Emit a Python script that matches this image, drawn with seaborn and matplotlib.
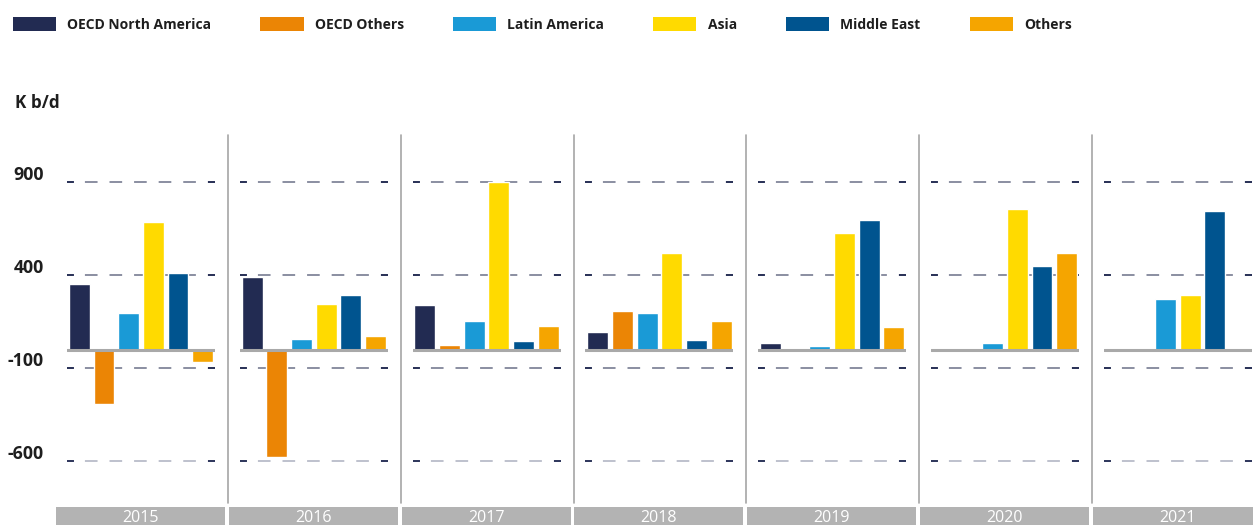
import matplotlib
matplotlib.use("Agg")
import matplotlib.pyplot as plt
import matplotlib.transforms as mtransforms
from matplotlib.lines import Line2D
from matplotlib.patches import Patch, Rectangle
import pandas as pd
import seaborn as sns


regions = ["OECD North America", "OECD Others", "Latin America",
           "Asia", "Middle East", "Others"]
years = ["2015", "2016", "2017", "2018", "2019", "2020", "2021"]

oecd_na = [355, 390, 240, 95, 35, 0, 0]
oecd_others = [-290, -575, 25, 210, 0, 0, 0]
latin_america = [200, 60, 155, 200, 22, 35, 270]
asia = [685, 245, 900, 520, 625, 755, 295]
middle_east = [410, 295, 45, 50, 700, 450, 745]
others = [-65, 75, 130, 155, 120, 520, 0]

y_ticks = [900, 400, -100, -600]
colors = ["#222B52", "#EB8505", "#1A9AD6", "#FFDA00", "#00548F", "#F5A500"]

sns.set_style("white")
plt.rcParams["font.family"] = ["Open Sans", "DejaVu Sans"]
plt.rcParams["lines.scale_dashes"] = False

W, H = 1253, 525
fig = plt.figure(figsize=(W / 100, H / 100), dpi=100)

series = [oecd_na, oecd_others, latin_america, asia, middle_east, others]
rows = []
for reg, vals in zip(regions, series):
    for yr, v in zip(years, vals):
        rows.append({"year": yr, "region": reg, "value": v})
df = pd.DataFrame(rows)

# px -> data scale (500 units = 93 px)
top_px, bot_px = 135, 503
y0 = 900 + (182.3 - top_px) * 500 / 93
y1 = -600 - (bot_px - 461.3) * 500 / 93

grid_gray = "#81869A"
grid_light = "#B9BCC9"
dark = "#222B52"
step = 172.8
axes = []
for i, yr in enumerate(years):
    left = 67 + i * step
    ax = fig.add_axes([left / W, (H - bot_px) / H, 148 / W, (bot_px - top_px) / H])
    sub = df[df["year"] == yr]
    sns.barplot(
        sub, x="region", y="value", hue="region",
        order=regions, hue_order=regions, palette=colors,
        width=0.85, dodge=False, saturation=1, legend=False,
        ax=ax, zorder=3,
    )
    ax.set_ylim(y1, y0)
    ax.set_xlim(-0.5, 5.5)
    ax.set_xlabel("")
    ax.set_ylabel("")
    ax.set_xticks([])
    ax.set_yticks([])
    for s in ax.spines.values():
        s.set_visible(False)
    ax.patch.set_alpha(0)

    trans = ax.get_yaxis_transform()
    for v in y_ticks:
        c = grid_light if v == -600 else grid_gray
        ax.axhline(v, color=c, lw=1.3, linestyle=(4.8, (9.1, 8.6)), zorder=1)
        ax.plot([0, 7 / 148], [v, v], transform=trans, color=dark, lw=1.3,
                solid_capstyle="butt", zorder=1)
        ax.plot([141 / 148, 1], [v, v], transform=trans, color=dark, lw=1.3,
                solid_capstyle="butt", zorder=1)
    ax.axhline(0, color="#A9A9A9", lw=2.2, zorder=4)
    axes.append(ax)

# y labels on the first panel
ax0 = axes[0]
lab_trans = mtransforms.offset_copy(ax0.get_yaxis_transform(), fig=fig,
                                    x=0, y=7, units="dots")
for v in y_ticks:
    ax0.text((44 - 67) / 148, v, f"{v}", transform=lab_trans,
             ha="right", va="center", fontsize=12.8, fontweight="bold",
             color="#1E1E1E", clip_on=False)
fig.text(15 / W, (H - 103.5) / H, "K b/d", ha="left", va="center",
         fontsize=12.3, fontweight="bold", color="#1E1E1E")

# panel separators and year strips
for i in range(len(years)):
    if i < len(years) - 1:
        xs = (228 + i * step) / W
        fig.add_artist(Line2D([xs, xs], [(H - 135) / H, (H - 503) / H],
                              color="#A6A6A6", lw=1.2))
    x0 = 56 + i * step
    fig.add_artist(Rectangle((x0 / W, 0), 169 / W, (H - 506.7) / H,
                             facecolor="#B3B3B3", edgecolor="none"))
    fig.text((x0 + 84.5) / W, 3 / H, years[i], ha="center", va="baseline",
             fontsize=11.5, color="white")

handles = [Patch(facecolor=c, edgecolor="none", label=r)
           for r, c in zip(regions, colors)]
fig.legend(
    handles=handles, loc="upper left", bbox_to_anchor=(13 / W, 1 - 17 / H),
    ncol=6, frameon=False, handlelength=3.1, handleheight=1.15,
    handletextpad=0.8, columnspacing=3.55,
    prop={"weight": "bold", "size": 10},
    labelcolor="#1E1E1E", borderaxespad=0, borderpad=0,
)

fig.savefig("out.png", dpi=100)
